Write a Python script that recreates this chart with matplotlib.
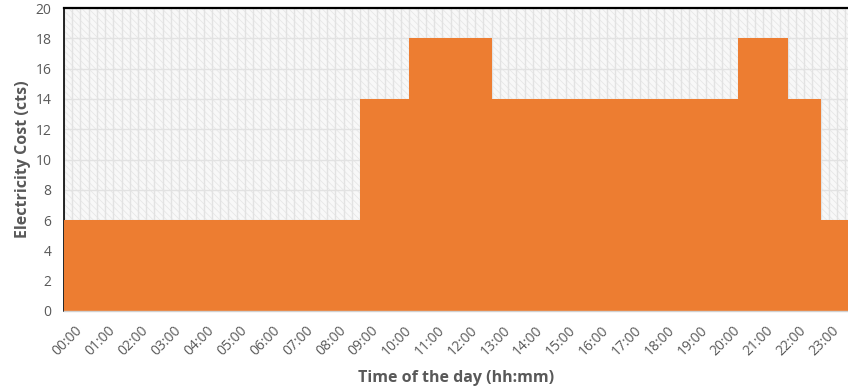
import matplotlib.pyplot as plt
import matplotlib.transforms as mtransforms
from matplotlib.patches import Rectangle
import numpy as np

# tariff schedule (hour where each price block starts)
block_start = [0, 9, 10.5, 13, 20.5, 22, 23]
block_end = 24
cost_cts = [6, 14, 18, 14, 18, 14, 6]
hour_labels = ["%02d:00" % h for h in range(24)]

plt.rcParams['font.family'] = ['Open Sans', 'DejaVu Sans']
plt.rcParams['hatch.linewidth'] = 0.5
grey = '#595959'
orange = '#ED7D31'

fig = plt.figure(figsize=(8.48, 3.91), dpi=100)
ax = fig.add_axes([64 / 848, 80 / 391, 784 / 848, 303 / 391])

# hatched background
ax.set_facecolor('#f8f8f8')
bg = Rectangle((0, 0), 1, 1, transform=ax.transAxes, facecolor='none',
               edgecolor='#e4e4e4', hatch='\\\\\\\\\\', linewidth=0, zorder=0)
ax.add_patch(bg)

edges = block_start + [block_end]
ax.stairs(cost_cts, edges, fill=True, color=orange, zorder=3, baseline=0)

ax.set_xlim(0, 23.83)
ax.set_ylim(0, 20)
ax.set_yticks(np.arange(0, 21, 2))
ax.set_xticks(range(24))
ax.set_xticklabels(hour_labels, rotation=45, ha='right', va='top',
                   rotation_mode='anchor', color=grey, fontsize=10)
ax.set_xticks(np.arange(0, 24, 0.25), minor=True)
ax.tick_params(axis='y', colors=grey, labelsize=10, length=0, pad=9)
ax.tick_params(axis='x', which='both', length=0, pad=9)

offset = mtransforms.ScaledTranslation(11 / 100, 0, fig.dpi_scale_trans)
for lbl in ax.get_xticklabels():
    lbl.set_transform(lbl.get_transform() + offset)

ax.grid(True, which='both', axis='x', color='#e2e2e2', linewidth=1, zorder=1)
ax.grid(True, which='major', axis='y', color='#e2e2e2', linewidth=1, zorder=1)
ax.set_axisbelow(True)

ax.spines['top'].set_color('black')
ax.spines['top'].set_linewidth(1.6)
ax.spines['left'].set_color('black')
ax.spines['left'].set_linewidth(1.2)
ax.spines['right'].set_visible(False)
ax.spines['bottom'].set_color('#d0d0d0')
ax.spines['bottom'].set_linewidth(1)
ax.spines['bottom'].set_zorder(4)

ax.set_ylabel('Electricity Cost (cts)', fontsize=11.5, fontweight='bold',
              color=grey, labelpad=3)
ax.set_xlabel('Time of the day (hh:mm)', fontsize=11.5, fontweight='bold',
              color=grey, labelpad=8)

fig.savefig('out.png', dpi=100)
